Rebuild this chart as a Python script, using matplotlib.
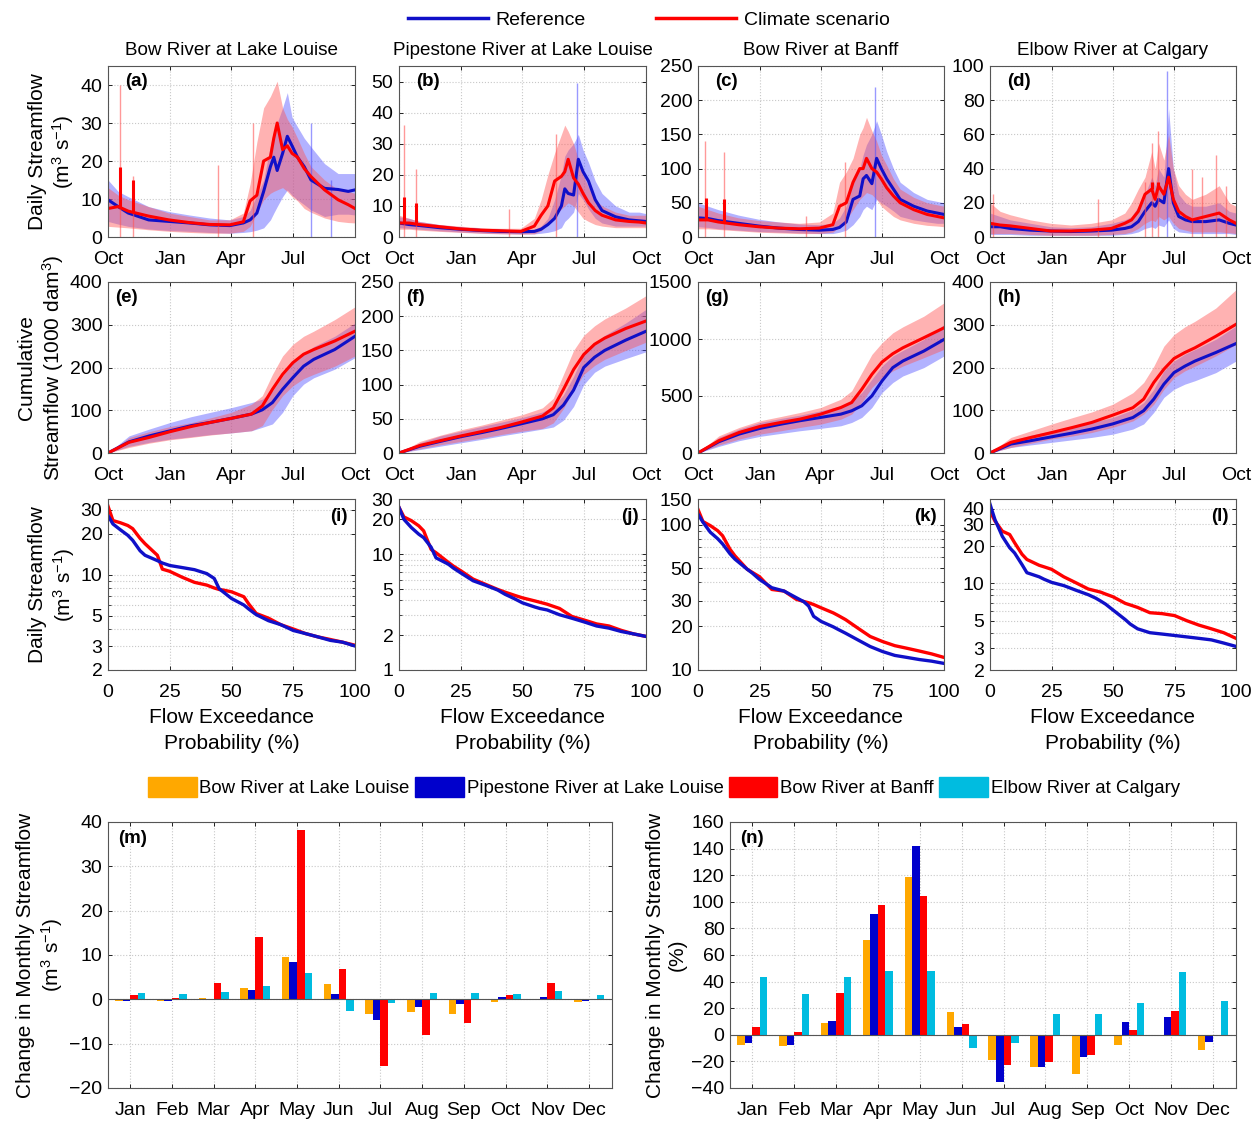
import numpy as np
import matplotlib
matplotlib.use('Agg')
from matplotlib import pyplot as plt
from matplotlib.ticker import FixedLocator, NullFormatter
from matplotlib.patches import Patch
from matplotlib.lines import Line2D

plt.rcParams['font.family'] = ['Liberation Sans', 'DejaVu Sans']
plt.rcParams['mathtext.default'] = 'regular'

stations = ['Bow River at Lake Louise', 'Pipestone River at Lake Louise',
            'Bow River at Banff', 'Elbow River at Calgary']
months = ['Jan', 'Feb', 'Mar', 'Apr', 'May', 'Jun', 'Jul', 'Aug', 'Sep', 'Oct', 'Nov', 'Dec']
wy_ticks = [0, 92, 182, 273, 365]
wy_labels = ['Oct', 'Jan', 'Apr', 'Jul', 'Oct']

# ---- daily streamflow (m3/s), day of water year ----
day_d = [0, 15, 30, 60, 90, 120, 150, 180, 200, 210, 220, 230, 240, 245, 250, 258, 265, 272, 280, 290, 300, 320, 340, 355, 365]

ref_a = [9.8, 8.0, 6.3, 4.5, 4.1, 3.7, 3.2, 3.0, 3.7, 4.5, 6.3, 12, 18.5, 21, 17.5, 22, 26.5, 24, 21, 18.5, 15, 12.8, 12.5, 12.0, 12.4]
ref_lo_a = [4.1, 3.4, 2.8, 2.1, 1.7, 1.5, 1.2, 1.0, 1.2, 1.4, 1.8, 2.4, 4.5, 6.3, 8, 10.6, 12.4, 11, 9.8, 8.5, 7.1, 5.4, 6.0, 6.0, 5.8]
ref_hi_a = [15, 12, 10.6, 8, 6.7, 5.8, 5, 4.5, 5.4, 7, 11, 15, 24, 28, 30, 34, 38, 31.5, 29, 26, 23.7, 19.3, 16.7, 16.7, 16.7]
cc_a = [7.5, 8.0, 6.8, 5.5, 4.5, 3.8, 3.3, 3.2, 4.0, 9.5, 11, 20, 21, 26, 30, 23, 24, 22, 21, 18, 15.9, 12.4, 9.8, 8.5, 7.5]
cc_lo_a = [2.8, 2.6, 2.4, 1.9, 1.5, 1.2, 1.0, 1.0, 1.5, 2.8, 6.3, 9.8, 11.5, 12, 12.4, 13, 12, 10.6, 9.5, 7.5, 6.5, 5.0, 4.1, 3.8, 3.7]
cc_hi_a = [13, 11, 9.8, 8, 6.3, 5.4, 4.5, 4.5, 6.3, 14, 25, 34, 37, 39, 41, 34, 31, 29, 26, 22, 18.5, 15, 12.4, 12, 11.5]

ref_b = [4.5, 4.0, 3.7, 3.0, 2.5, 2.1, 1.8, 1.7, 1.8, 2.5, 4.0, 6, 10, 15.5, 14, 13.5, 25, 21, 18, 12, 8.5, 6.5, 5.5, 5.2, 5.0]
ref_lo_b = [3, 2.8, 2.5, 2, 1.6, 1.3, 1.1, 1.0, 1.0, 1.2, 1.5, 2, 3, 5, 6, 8, 14, 12, 9, 6, 4.5, 3.5, 3.5, 3.5, 3.5]
ref_hi_b = [6.5, 6, 5, 4, 3.3, 2.8, 2.5, 2.3, 2.5, 3.5, 6, 12, 20, 26, 28, 30, 33, 28, 24, 18, 14, 10, 8, 8, 7.5]
cc_b = [4.5, 4.5, 4.0, 3.3, 2.6, 2.2, 2.0, 1.8, 3.5, 7, 10, 18, 19.5, 21, 25, 19, 17, 14, 11, 8.5, 7.0, 5.5, 5.0, 4.8, 4.5]
cc_lo_b = [2.5, 2.5, 2.2, 1.8, 1.5, 1.2, 1.0, 0.9, 1.0, 2, 4, 7, 9, 10, 11, 10, 8, 6, 5, 4, 3.5, 3, 3, 3, 3]
cc_hi_b = [7, 6, 5, 4, 3.5, 3, 2.8, 2.8, 6, 12, 20, 27, 33, 36, 34, 30, 25, 20, 16, 12, 10, 8, 7, 7, 7]

ref_c = [28, 27, 24, 20, 16, 13, 11, 10, 11, 14, 22, 55, 60, 85, 90, 78, 115, 100, 85, 70, 55, 45, 38, 35, 33]
ref_lo_c = [15, 14, 12, 10, 8, 7, 6, 5, 5, 7, 10, 18, 30, 40, 45, 40, 55, 50, 45, 38, 30, 25, 22, 20, 20]
ref_hi_c = [50, 45, 40, 32, 26, 22, 19, 18, 20, 28, 45, 80, 100, 120, 135, 150, 170, 150, 125, 100, 80, 65, 55, 52, 50]
cc_c = [25, 25, 22, 18, 15, 13, 12, 13, 18, 45, 50, 80, 100, 100, 115, 100, 95, 85, 72, 60, 50, 40, 33, 30, 28]
cc_lo_c = [12, 12, 11, 9, 7, 6, 5, 5, 7, 15, 25, 40, 55, 60, 65, 62, 55, 45, 38, 30, 25, 20, 17, 16, 15]
cc_hi_c = [45, 40, 35, 28, 24, 22, 20, 22, 35, 80, 95, 115, 150, 160, 175, 155, 140, 120, 105, 85, 70, 58, 50, 47, 45]

ref_d = [6, 6, 5, 4, 3.5, 3.2, 3.5, 4, 5, 6, 9, 15, 20, 18, 22, 20, 40, 20, 12, 10, 9, 9, 10, 8, 7]
ref_lo_d = [1.5, 1.5, 1.5, 1, 1, 1, 1, 1, 1.5, 2, 3, 5, 6, 5, 7, 6, 10, 5, 3, 2.5, 2, 2, 2, 2, 1.5]
ref_hi_d = [14, 12, 10, 8, 6, 5.5, 6, 8, 10, 12, 18, 25, 35, 30, 40, 35, 75, 40, 25, 20, 18, 18, 20, 15, 14]
cc_d = [8, 7, 6.5, 5, 3.5, 3.5, 4, 5, 8, 10, 15, 25, 28, 22, 30, 25, 35, 22, 15, 12, 10, 12, 14, 10, 8]
cc_lo_d = [2, 2, 2, 1.5, 1, 1, 1, 1.5, 2, 3, 5, 8, 10, 9, 12, 10, 12, 8, 5, 4, 3, 3, 3, 2.5, 2]
cc_hi_d = [20, 15, 13, 10, 8, 7, 8, 10, 14, 20, 28, 35, 50, 40, 55, 45, 60, 40, 30, 25, 22, 25, 30, 20, 18]

# single-day peaks in the ensemble envelopes and in the scenario mean
cc_spike_days_a = [17, 37, 162, 215]
cc_spike_tops_a = [40, 16, 19, 30]
cc_mean_spike_days_a = [17, 37]
cc_mean_spike_tops_a = [18.5, 15]
ref_spike_days_a = [300, 330]
ref_spike_tops_a = [30, 15]

cc_spike_days_b = [8, 25, 163, 232]
cc_spike_tops_b = [36, 22, 9, 33]
cc_mean_spike_days_b = [8, 25]
cc_mean_spike_tops_b = [12.8, 10.9]
ref_spike_days_b = [263]
ref_spike_tops_b = [49.5]

cc_spike_days_c = [10, 38, 160, 218]
cc_spike_tops_c = [140, 125, 30, 110]
cc_mean_spike_days_c = [12, 38]
cc_mean_spike_tops_c = [57, 55]
ref_spike_days_c = [262]
ref_spike_tops_c = [220]

cc_spike_days_d = [5, 160, 230, 240, 250, 300, 315, 335, 350]
cc_spike_tops_d = [25, 22, 32, 55, 62, 40, 35, 48, 30]
cc_mean_spike_days_d = [240, 250]
cc_mean_spike_tops_d = [32, 32]
ref_spike_days_d = [263]
ref_spike_tops_d = [97]

# ---- cumulative streamflow (1000 dam3) ----
day_c = [0, 31, 61, 92, 123, 151, 182, 212, 228, 243, 258, 273, 289, 304, 335, 365]

cum_ref_e = [0, 26, 40, 52, 64, 71.5, 81, 91, 101, 118, 149, 176, 203, 219, 242, 273]
cum_ref_lo_e = [0, 15.5, 25, 32.6, 38, 43, 47, 52, 60, 68, 95, 134, 161, 176, 196, 223]
cum_ref_hi_e = [0, 40, 56, 71.5, 85, 95, 106, 118, 126, 145, 180, 211, 231, 249, 273, 304]
cum_cc_e = [0, 25, 36.5, 50, 62, 71.5, 81, 91, 110, 149, 184, 211, 231, 242, 262, 285]
cum_cc_lo_e = [0, 13, 23, 31, 36.5, 42, 47, 52, 64, 102, 134, 157, 174, 184, 203, 227]
cum_cc_hi_e = [0, 36, 50, 62, 71, 82, 95, 114, 134, 184, 227, 254, 273, 285, 312, 342]

cum_ref_f = [0, 10, 17, 24, 30, 36, 43, 50, 56, 70, 92, 125, 140, 150, 165, 178]
cum_ref_lo_f = [0, 5, 10, 15, 20, 25, 30, 35, 38, 48, 68, 100, 118, 127, 138, 148]
cum_ref_hi_f = [0, 15, 25, 32, 39, 45, 52, 60, 68, 85, 112, 145, 160, 172, 190, 210]
cum_cc_f = [0, 11, 18, 25, 31.5, 37.5, 45.5, 54, 66, 93, 122, 144, 159, 168, 182, 193]
cum_cc_lo_f = [0, 6, 12, 17, 22, 27, 32, 36, 44, 65, 92, 115, 128, 137, 150, 162]
cum_cc_hi_f = [0, 17, 26, 34, 41, 48, 56, 66, 80, 115, 150, 172, 186, 196, 212, 230]

cum_ref_g = [0, 99, 166, 216, 253, 283, 312, 341, 370, 414, 501, 632, 749, 807, 894, 996]
cum_ref_lo_g = [0, 58, 108, 146, 172, 195, 216, 239, 268, 312, 399, 530, 618, 676, 749, 851]
cum_ref_hi_g = [0, 137, 210, 268, 303, 332, 370, 414, 457, 530, 647, 763, 851, 900, 996, 1127]
cum_cc_g = [0, 108, 180, 233, 268, 297, 341, 399, 443, 559, 690, 798, 871, 923, 1011, 1098]
cum_cc_lo_g = [0, 70, 122, 166, 195, 224, 253, 297, 341, 443, 574, 661, 720, 763, 836, 909]
cum_cc_hi_g = [0, 151, 224, 283, 320, 355, 399, 472, 545, 705, 865, 967, 1054, 1107, 1200, 1317]

cum_ref_h = [0, 21, 29, 38, 47, 56, 68, 83, 99, 126, 161, 188, 203, 215, 235, 256]
cum_ref_lo_h = [0, 13, 19, 25, 31, 36.5, 44, 56, 68, 95, 130, 149, 161, 169, 188, 215]
cum_ref_hi_h = [0, 29, 42, 52, 62, 71.5, 83, 101, 118, 149, 192, 215, 231, 242, 266, 297]
cum_cc_h = [0, 25, 36.5, 48, 60, 71.5, 88.5, 106, 126, 165, 196, 221, 235, 246, 273, 301]
cum_cc_lo_h = [0, 13, 23, 33, 40, 48, 60, 75, 91, 114, 149, 176, 192, 203, 227, 254]
cum_cc_hi_h = [0, 36.5, 52, 68, 83, 96, 114, 141, 165, 203, 250, 277, 295, 308, 339, 382]

# ---- flow duration curves (m3/s) ----
exceed = [0, 2, 5, 8, 10, 13, 15, 20, 22, 25, 30, 35, 40, 43, 45, 47, 50, 55, 57, 60, 65, 70, 75, 80, 85, 90, 95, 100]

fdc_ref_i = [27.2, 23.6, 21.4, 19.5, 17.9, 15, 13.9, 12.7, 12.2, 11.7, 11.3, 10.9, 10.2, 9.4, 7.9, 7.4, 6.7, 6.0, 5.6, 5.1, 4.6, 4.3, 3.9, 3.7, 3.5, 3.3, 3.2, 3.0]
fdc_cc_i = [31.9, 25.0, 24.1, 23, 21.8, 18.5, 16.9, 13.9, 11.0, 10.6, 9.6, 8.8, 8.4, 8.0, 7.8, 7.7, 7.5, 6.9, 6.1, 5.2, 4.8, 4.3, 4.0, 3.7, 3.5, 3.35, 3.2, 3.04]
fdc_ref_j = [25.4, 20, 17.0, 14.9, 13.9, 11.5, 9.3, 8.2, 7.6, 6.9, 5.9, 5.4, 4.9, 4.5, 4.3, 4.1, 3.8, 3.5, 3.4, 3.3, 3.0, 2.8, 2.6, 2.4, 2.3, 2.15, 2.05, 1.95]
fdc_cc_j = [25.4, 21, 19.5, 17.6, 15.9, 11.0, 10.3, 8.5, 7.9, 7.2, 6.1, 5.5, 4.96, 4.7, 4.55, 4.4, 4.2, 3.95, 3.85, 3.7, 3.4, 2.9, 2.7, 2.5, 2.4, 2.2, 2.05, 1.95]
fdc_ref_k = [118, 104, 88.6, 80, 73.6, 63, 57.9, 49.3, 46.5, 42.0, 36.8, 34.9, 31.4, 29.5, 27.5, 23.4, 21.6, 19.8, 19.0, 17.9, 16.1, 14.5, 13.4, 12.6, 12.2, 11.8, 11.5, 11.1]
fdc_cc_k = [127, 105, 98.4, 90.8, 83.8, 67.7, 61.0, 49.3, 47, 43.8, 35.8, 34.9, 30.6, 29.6, 29.0, 28.2, 26.8, 24.7, 23.7, 22.2, 19.4, 17.0, 15.7, 14.7, 14.1, 13.5, 12.9, 12.2]
fdc_ref_l = [43.6, 32.8, 24, 19.4, 17.6, 14.2, 12.2, 11.3, 10.8, 10.2, 9.6, 8.8, 8.1, 7.6, 7.2, 6.8, 6.1, 5.1, 4.7, 4.3, 4.0, 3.9, 3.8, 3.7, 3.6, 3.5, 3.3, 3.1]
fdc_cc_l = [38.4, 31.9, 26.4, 24.8, 21.3, 17.2, 15.6, 14.0, 13.6, 13.0, 11.3, 10.1, 9.0, 8.7, 8.5, 8.2, 7.8, 6.9, 6.7, 6.4, 5.8, 5.7, 5.5, 5.0, 4.6, 4.3, 4.0, 3.6]

# ---- change in monthly streamflow, Jan..Dec ----
chg_abs_bll = [-0.3, -0.3, 0.4, 2.5, 9.6, 3.5, -3.2, -2.9, -3.3, -0.7, 0.0, -0.7]
chg_abs_pll = [-0.4, -0.4, 0.05, 2.1, 8.4, 1.1, -4.7, -1.7, -1.0, 0.45, 0.5, -0.4]
chg_abs_bb = [1.0, 0.4, 3.7, 14.0, 38.3, 6.9, -15.1, -8.1, -5.3, 1.0, 3.7, 0.0]
chg_abs_erc = [1.5, 1.1, 1.7, 2.9, 6.0, -2.6, -0.75, 1.5, 1.5, 1.3, 1.9, 1.0]

chg_pct_bll = [-8, -8.3, 8.8, 71.4, 118.6, 17.1, -19.1, -24.1, -29.4, -7.8, -0.5, -11.8]
chg_pct_pll = [-6, -7.3, 10.3, 90.7, 141.7, 5.8, -35.4, -24.4, -16.6, 9.8, 13.6, -5.3]
chg_pct_bb = [5.8, 2.3, 31.7, 97.5, 104.5, 7.8, -22.9, -20.4, -15.1, 3.3, 17.6, -0.3]
chg_pct_erc = [43.2, 30.9, 43.2, 48, 48, -9.8, -6.3, 15.8, 15.8, 23.6, 47, 25.4]

REF_LINE = '#1010c8'
CC_LINE = '#ff0000'
REF_FILL = '#5555ff'
CC_FILL = '#ff5555'
BAR_COLORS = ['#ffa800', '#0000cc', '#ff0000', '#00bce0']
GRID = dict(color='#c8c8c8', linestyle=':', linewidth=0.8)
TICK_FS = 14

fig = plt.figure(figsize=(12.6, 11.21), dpi=100)
W, H = 1260.0, 1121.0


def add_axes(left, top, right, bottom):
    return fig.add_axes([left / W, 1 - bottom / H, (right - left) / W, (bottom - top) / H])


def style(ax):
    ax.tick_params(direction='in', top=True, right=True, labelsize=TICK_FS, length=3, width=0.6)
    ax.tick_params(axis='x', pad=10)
    ax.tick_params(axis='y', pad=4)
    for s in ax.spines.values():
        s.set_color('#555555')
        s.set_linewidth(0.8)
    ax.grid(True, **GRID)
    ax.set_axisbelow(True)


col_x = [(108, 355), (399, 646), (698, 944), (990, 1236)]

# row 1: daily hydrographs
daily = [
    (ref_a, ref_lo_a, ref_hi_a, cc_a, cc_lo_a, cc_hi_a, 45, np.arange(0, 41, 10), '(a)',
     cc_spike_days_a, cc_spike_tops_a, cc_mean_spike_days_a, cc_mean_spike_tops_a, ref_spike_days_a, ref_spike_tops_a),
    (ref_b, ref_lo_b, ref_hi_b, cc_b, cc_lo_b, cc_hi_b, 55, np.arange(0, 51, 10), '(b)',
     cc_spike_days_b, cc_spike_tops_b, cc_mean_spike_days_b, cc_mean_spike_tops_b, ref_spike_days_b, ref_spike_tops_b),
    (ref_c, ref_lo_c, ref_hi_c, cc_c, cc_lo_c, cc_hi_c, 250, np.arange(0, 251, 50), '(c)',
     cc_spike_days_c, cc_spike_tops_c, cc_mean_spike_days_c, cc_mean_spike_tops_c, ref_spike_days_c, ref_spike_tops_c),
    (ref_d, ref_lo_d, ref_hi_d, cc_d, cc_lo_d, cc_hi_d, 100, np.arange(0, 101, 20), '(d)',
     cc_spike_days_d, cc_spike_tops_d, cc_mean_spike_days_d, cc_mean_spike_tops_d, ref_spike_days_d, ref_spike_tops_d),
]
for k, (r, rlo, rhi, c, clo, chi, ymax, yt, lab, csd, cst, cmd, cmt, rsd, rst) in enumerate(daily):
    ax = add_axes(col_x[k][0], 66, col_x[k][1], 237)
    ax.fill_between(day_d, rlo, rhi, color=REF_FILL, alpha=0.45, lw=0)
    ax.vlines(rsd, 0, rst, color=REF_FILL, alpha=0.6, lw=1)
    ax.plot(day_d, r, color=REF_LINE, lw=2.2)
    ax.fill_between(day_d, clo, chi, color=CC_FILL, alpha=0.45, lw=0)
    ax.vlines(csd, 0, cst, color=CC_FILL, alpha=0.6, lw=1)
    if cmd:
        ax.vlines(cmd, np.interp(cmd, day_d, c), cmt, color=CC_LINE, lw=2.2)
    ax.plot(day_d, c, color=CC_LINE, lw=2.2)
    ax.set_xlim(0, 365)
    ax.set_ylim(0, ymax)
    ax.set_xticks(wy_ticks)
    ax.set_xticklabels(wy_labels)
    ax.set_yticks(yt)
    style(ax)
    ax.set_title(stations[k], fontsize=13.6, pad=8)
    ax.text(0.07, 0.96, lab, transform=ax.transAxes, fontsize=13.5, fontweight='bold', va='top', ha='left')
    if k == 0:
        ax.set_ylabel('Daily Streamflow\n(m$^3$ s$^{-1}$)', fontsize=15, labelpad=3)

# row 2: cumulative streamflow
cumul = [
    (cum_ref_e, cum_ref_lo_e, cum_ref_hi_e, cum_cc_e, cum_cc_lo_e, cum_cc_hi_e, 400, np.arange(0, 401, 100), '(e)'),
    (cum_ref_f, cum_ref_lo_f, cum_ref_hi_f, cum_cc_f, cum_cc_lo_f, cum_cc_hi_f, 250, np.arange(0, 251, 50), '(f)'),
    (cum_ref_g, cum_ref_lo_g, cum_ref_hi_g, cum_cc_g, cum_cc_lo_g, cum_cc_hi_g, 1500, np.arange(0, 1501, 500), '(g)'),
    (cum_ref_h, cum_ref_lo_h, cum_ref_hi_h, cum_cc_h, cum_cc_lo_h, cum_cc_hi_h, 400, np.arange(0, 401, 100), '(h)'),
]
for k, (r, rlo, rhi, c, clo, chi, ymax, yt, lab) in enumerate(cumul):
    ax = add_axes(col_x[k][0], 282, col_x[k][1], 453)
    ax.fill_between(day_c, rlo, rhi, color=REF_FILL, alpha=0.45, lw=0)
    ax.plot(day_c, r, color=REF_LINE, lw=2.2)
    ax.fill_between(day_c, clo, chi, color=CC_FILL, alpha=0.45, lw=0)
    ax.plot(day_c, c, color=CC_LINE, lw=2.2)
    ax.set_xlim(0, 365)
    ax.set_ylim(0, ymax)
    ax.set_xticks(wy_ticks)
    ax.set_xticklabels(wy_labels)
    ax.set_yticks(yt)
    style(ax)
    ax.text(0.03, 0.96, lab, transform=ax.transAxes, fontsize=13.5, fontweight='bold', va='top', ha='left')
    if k == 0:
        ax.set_ylabel('Cumulative\nStreamflow (1000 dam$^3$)', fontsize=15, labelpad=3)

# row 3: flow duration curves
fdc = [
    (fdc_ref_i, fdc_cc_i, (2, 36), [2, 3, 5, 10, 20, 30], '(i)'),
    (fdc_ref_j, fdc_cc_j, (1, 30), [1, 2, 5, 10, 20, 30], '(j)'),
    (fdc_ref_k, fdc_cc_k, (10, 150), [10, 20, 30, 50, 100, 150], '(k)'),
    (fdc_ref_l, fdc_cc_l, (2, 48), [2, 3, 5, 10, 20, 30, 40], '(l)'),
]
for k, (r, c, ylim, yt, lab) in enumerate(fdc):
    ax = add_axes(col_x[k][0], 499, col_x[k][1], 670)
    ax.plot(exceed, c, color=CC_LINE, lw=2.4)
    ax.plot(exceed, r, color=REF_LINE, lw=2.4)
    ax.set_yscale('log')
    ax.set_xlim(0, 100)
    ax.set_ylim(*ylim)
    ax.set_xticks([0, 25, 50, 75, 100])
    ax.yaxis.set_major_locator(FixedLocator(yt))
    ax.set_yticklabels([str(v) for v in yt])
    minor = [v for v in list(range(1, 10)) + list(range(10, 100, 10)) + [100, 150]
             if ylim[0] < v < ylim[1] and v not in yt]
    ax.yaxis.set_minor_locator(FixedLocator(minor))
    ax.yaxis.set_minor_formatter(NullFormatter())
    style(ax)
    ax.tick_params(which='minor', direction='in', right=True, length=2, width=0.5)
    ax.grid(True, which='minor', axis='y', **GRID)
    ax.text(0.97, 0.95, lab, transform=ax.transAxes, fontsize=13.5, fontweight='bold', va='top', ha='right')
    ax.set_xlabel('Flow Exceedance\nProbability (%)', fontsize=15, labelpad=5, linespacing=1.45)
    if k == 0:
        ax.set_ylabel('Daily Streamflow\n(m$^3$ s$^{-1}$)', fontsize=15, labelpad=3)

# bottom row: monthly change bars
pos = np.arange(1, 13)
bw = 0.18
bars = [
    ((108, 612), [chg_abs_bll, chg_abs_pll, chg_abs_bb, chg_abs_erc], (-20, 40), np.arange(-20, 41, 10),
     'Change in Monthly Streamflow\n(m$^3$ s$^{-1}$)', '(m)'),
    ((730, 1236), [chg_pct_bll, chg_pct_pll, chg_pct_bb, chg_pct_erc], (-40, 160), np.arange(-40, 161, 20),
     'Change in Monthly Streamflow\n(%)', '(n)'),
]
for (xl, xr), series, ylim, yt, ylab, lab in bars:
    ax = add_axes(xl, 822, xr, 1088)
    for j, vals in enumerate(series):
        ax.bar(pos + (j - 1.5) * bw, vals, width=bw, color=BAR_COLORS[j], lw=0)
    ax.axhline(0, color='#555555', lw=0.8)
    ax.set_xlim(0.47, 12.55)
    ax.set_ylim(*ylim)
    ax.set_yticks(yt)
    ax.set_xticks(pos)
    ax.set_xticklabels(months)
    style(ax)
    ax.set_ylabel(ylab, fontsize=15, labelpad=3)
    ax.text(0.02, 0.97, lab, transform=ax.transAxes, fontsize=13.5, fontweight='bold', va='top', ha='left')

# legends
line_handles = [Line2D([], [], color=REF_LINE, lw=2.5), Line2D([], [], color=CC_LINE, lw=2.5)]
fig.legend(line_handles, ['Reference', 'Climate scenario'], loc='center', bbox_to_anchor=(0.515, 0.982),
           ncol=2, frameon=False, fontsize=14, handlelength=4.1, columnspacing=3.6, handletextpad=0.4)
patch_handles = [Patch(color=c) for c in BAR_COLORS]
fig.legend(patch_handles, stations, loc='center', bbox_to_anchor=(0.527, 0.298),
           ncol=4, frameon=False, fontsize=13.4, handlelength=2.6, handleheight=1.3,
           columnspacing=0.3, handletextpad=0.15)

fig.savefig('out.png', dpi=100)
